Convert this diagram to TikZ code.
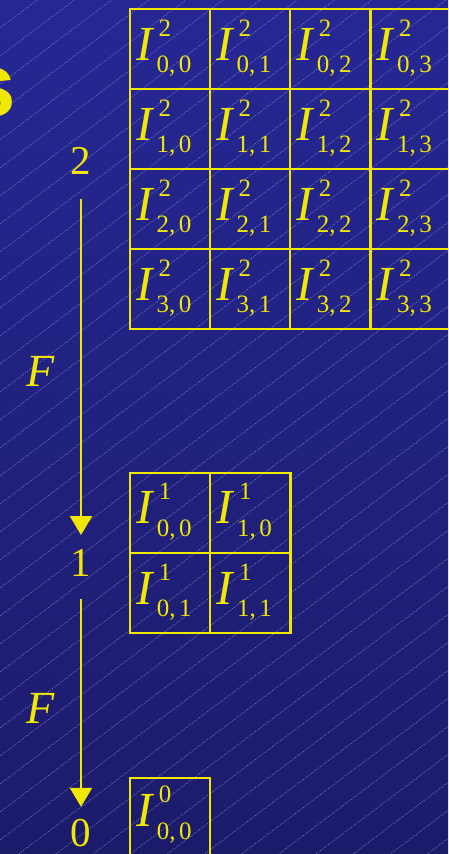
\documentclass[tikz,border=0pt]{standalone}
\usepackage{fontspec}
\setmainfont{Liberation Serif}
\newfontfamily\titlesans{Liberation Sans}
\usetikzlibrary{arrows.meta}
\definecolor{ylw}{RGB}{240,232,0}
\definecolor{bgtop}{RGB}{38,39,148}
\definecolor{bgbot}{RGB}{28,27,106}
\definecolor{hatch}{RGB}{130,130,205}
\newcommand\Icell[3]{{\fontsize{49}{49}\selectfont\itshape I}\kern4pt\rlap{\kern2pt\raisebox{24pt}{\fontsize{25}{25}\selectfont #1}}\raisebox{-12.5pt}{\fontsize{25}{25}\selectfont #2,\kern3.5pt#3}}
\tikzset{
 cellbox/.style={draw=ylw, line width=2.2pt, minimum width=80.2pt, minimum height=80pt, inner sep=0pt, anchor=north west},
 ilab/.style={text=ylw, inner sep=0pt, anchor=base west},
 lvl/.style={text=ylw, inner sep=0pt, anchor=base, font=\fontsize{41}{41}\selectfont, text height=28pt, text depth=0pt},
 fun/.style={text=ylw, inner sep=0pt, anchor=base west, font=\fontsize{46}{46}\selectfont\itshape},
 downarrow/.style={draw=ylw, line width=2.5pt, -{Triangle[width=22pt,length=19pt]}},
 hatchline/.style={draw=hatch, line width=0.5pt, dash pattern=on 1.2pt off 1.2pt}
}
\begin{document}
\begin{tikzpicture}[x=1pt,y=-1pt]
\useasboundingbox (0,0) rectangle (448,854);
\clip (0,0) rectangle (448,854);
\shade[top color=bgtop, bottom color=bgbot] (0,0) rectangle (448,854);
\foreach \c in {0,28,...,1764} \draw[hatchline] (0,\c) -- (1200,\c-904);
% title fragment
\node[text=ylw, inner sep=0pt, anchor=base east, font=\titlesans\bfseries\fontsize{91}{91}\selectfont] (title) at (16.6,116) {s};
% level 2 grid
\foreach \r in {0,...,3}{
  \foreach \col in {0,...,3}{
    \node[cellbox] (g\r\col) at (128.7+80.2*\col, 7.5+80*\r) {};
    \node[ilab] (l\r\col) at ([shift={(7.3pt,-52.5pt)}]g\r\col.north west) {\Icell{2}{\r}{\col}};
  }
}
% level 1 grid
\foreach \r in {0,1}{
  \foreach \col in {0,1}{
    \node[cellbox] (h\r\col) at (129+80.2*\col, 471.7+80.3*\r) {};
    \node[ilab] (m\r\col) at ([shift={(7.3pt,-52pt)}]h\r\col.north west) {\Icell{1}{\col}{\r}};
  }
}
% level 0
\node[cellbox] (k00) at (129,776.7) {};
\node[ilab] (p00) at ([shift={(7.3pt,-50pt)}]k00.north west) {\Icell{0}{0}{0}};
% levels and arrows
\node[lvl] (n2) at (81,174) {2};
\node[lvl] (n1) at (81,576.7) {1};
\node[lvl] (n0) at (81,846) {0};
\node[fun] (f1) at (26.5,386.7) {F};
\node[fun] (f2) at (26.5,723) {F};
\draw[downarrow, shorten <=25pt, shorten >=13.5pt] (n2.south) -- (n1.north);
\draw[downarrow, shorten <=22.3pt, shorten >=11pt] (n1.south) -- (n0.north);
\end{tikzpicture}
\end{document}
